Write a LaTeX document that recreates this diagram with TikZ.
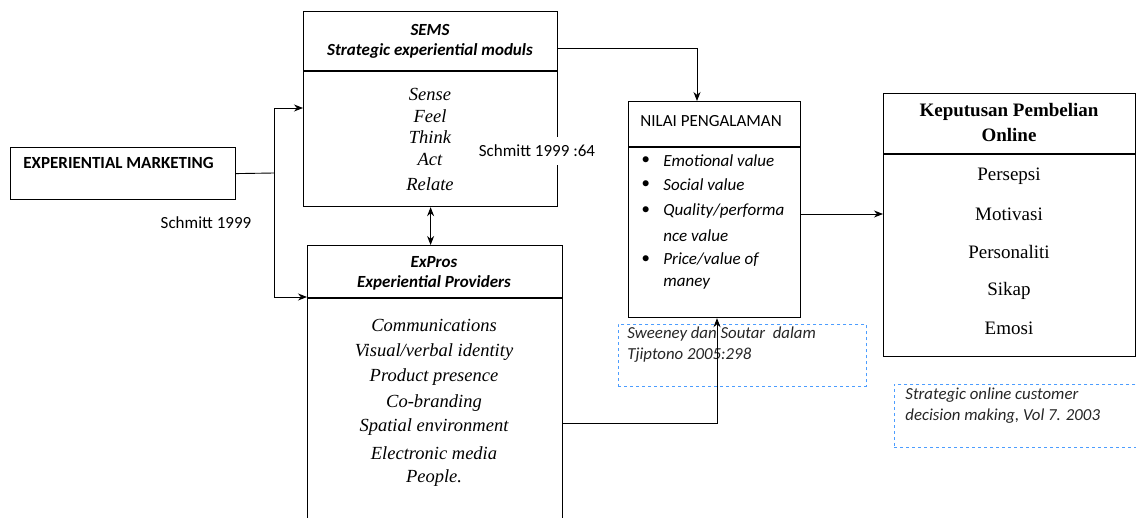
\documentclass[tikz,border=0pt]{standalone}
\usepackage{fontspec}
\setmainfont{Liberation Serif}
\newfontfamily\calibri{Carlito}
\usetikzlibrary{arrows.meta,positioning,calc}

\begin{document}
\begin{tikzpicture}[x=1pt,y=-1pt,>={Stealth[length=9pt,width=7pt]},line width=0.9pt,
  box/.style={draw,line width=1.2pt,anchor=north west,inner sep=0pt},
  cite/.style={draw=blue!55!cyan!70,dashed,line width=0.8pt,anchor=north west,inner sep=0pt},
  sans/.style={font=\calibri\fontsize{17}{20}\selectfont,inner sep=1pt},
  head/.style={font=\calibri\fontsize{17}{20}\selectfont\bfseries\itshape,align=center,inner sep=0pt},
  item/.style={font=\fontsize{18.5}{20}\selectfont\itshape,inner sep=0pt},
  kitem/.style={font=\fontsize{19}{20}\selectfont,inner sep=0pt},
  bul/.style={font=\calibri\fontsize{17}{20}\selectfont\itshape,anchor=west,inner sep=0pt},
  src/.style={font=\calibri\fontsize{16.8}{20}\selectfont\itshape,text=black!85,anchor=west,inner sep=0pt}]
  \clip (0,0) rectangle (1136,518);

  % boxes
  \node[box,minimum width=225pt,minimum height=52pt] (em) at (10,147) {};
  \node[box,minimum width=254pt,minimum height=195pt] (sems) at (303,11) {};
  \node[box,minimum width=255pt,minimum height=300pt] (exp) at (307,245) {};
  \node[box,minimum width=172pt,minimum height=216pt] (nilai) at (628,101) {};
  \node[box,minimum width=252pt,minimum height=263pt] (kep) at (883,93) {};
  \node[cite,minimum width=248pt,minimum height=62pt] (src1) at (618,324) {};
  \node[cite,minimum width=245pt,minimum height=63pt] (src2) at (894,384) {};

  % header lines
  \draw[line width=1.2pt] ($(sems.north west)+(0,60)$) -- ($(sems.north east)+(0,60)$);
  \draw[line width=1.2pt] ($(exp.north west)+(0,53)$) -- ($(exp.north east)+(0,53)$);
  \draw[line width=1.2pt] ($(nilai.north west)+(0,46)$) -- ($(nilai.north east)+(0,46)$);
  \draw[line width=1.2pt] ($(kep.north west)+(0,61)$) -- ($(kep.north east)+(0,61)$);

  % texts
  \node[sans,anchor=west,font=\calibri\fontsize{17}{20}\selectfont\bfseries] (emtxt) at (22,163) {EXPERIENTIAL MARKETING};
  \node[sans] (sch) at (206,223) {Schmitt 1999};

  \node[head] (semst) at (430,41) {SEMS\\Strategic experiential moduls};
  \node[item] (s1) at (430,94) {Sense};
  \node[item] (s2) at (430,116) {Feel};
  \node[item] (s3) at (430,137) {Think};
  \node[item] (s4) at (430,159) {Act};
  \node[item] (s5) at (430,184) {Relate};
  \node[sans,fill=white,inner ysep=8pt] (sch64) at (537,151) {Schmitt 1999 :64};

  \node[head] (expt) at (434,273) {ExPros\\Experiential Providers};
  \node[item] (e1) at (434,325) {Communications};
  \node[item] (e2) at (434,352) {Visual/verbal identity};
  \node[item] (e3) at (434,377) {Product presence};
  \node[item] (e4) at (434,403) {Co-branding};
  \node[item] (e5) at (434,427) {Spatial environment};
  \node[item] (e6) at (434,453) {Electronic media};
  \node[item] (e7) at (434,478) {People.};

  \node[sans,anchor=west] (nilt) at (639,121) {NILAI PENGALAMAN};
  \foreach \y in {161,185,211,260}
    \node[bul] at (641,\y) {\textbullet};
  \node[bul] (n1) at (663,161) {Emotional value};
  \node[bul] (n2) at (663,185) {Social value};
  \node[bul] (n3) at (663,211) {Quality/performa};
  \node[bul] (n4) at (663,236) {nce value};
  \node[bul] (n5) at (663,260) {Price/value of};
  \node[bul] (n6) at (663,284) {maney};

  \node[kitem,font=\fontsize{19}{25}\selectfont\bfseries,align=center] (kept) at (1009,123) {Keputusan Pembelian\\Online};
  \node[kitem] (k1) at (1009,176) {Persepsi};
  \node[kitem] (k2) at (1009,214) {Motivasi};
  \node[kitem] (k3) at (1009,252) {Personaliti};
  \node[kitem] (k4) at (1009,291) {Sikap};
  \node[kitem] (k5) at (1009,328) {Emosi};

  \node[src] (c1) at (627,334) {Sweeney dan Soutar\ \ dalam};
  \node[src] (c2) at (627,355) {Tjiptono 2005:298};
  \node[src] (c3) at (905,395) {Strategic online customer};
  \node[src] (c4) at (905,416) {decision making, Vol 7. 2003};

  % connectors
  \coordinate (split) at ($(em.north east)+(38,26)$);
  \draw (em.east) -- (split);
  \draw[->] (split) |- ($(sems.north west)+(0,97)$);
  \draw[->] (split) |- ($(exp.north west)+(0,52)$);
  \draw[<->] (sems.south) -- (sems.south |- exp.north);
  \draw[->] ($(sems.north east)+(0,37)$) -| ($(nilai.north west)+(69,0)$);
  \draw[->] ($(exp.north east)+(0,178)$) -| ($(nilai.south west)+(89,0)$);
  \draw[->] ($(nilai.north east)+(0,113)$) -- ($(kep.north west)+(0,121)$);
\end{tikzpicture}
\end{document}
